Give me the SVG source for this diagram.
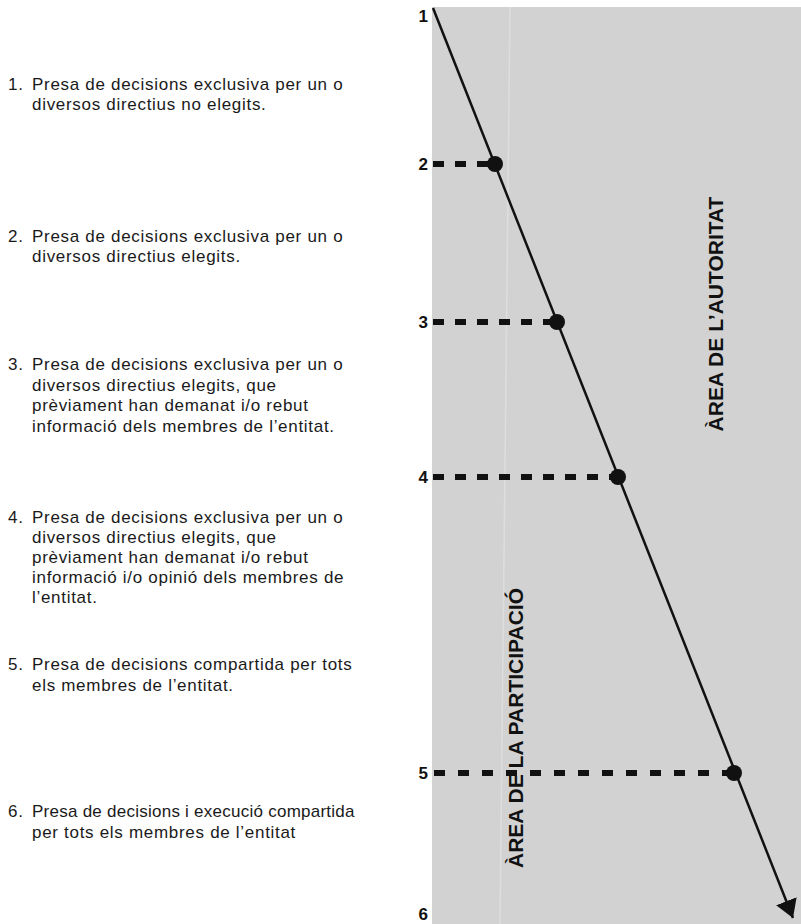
<svg xmlns="http://www.w3.org/2000/svg" width="801" height="924" viewBox="0 0 801 924">
<defs>
<style>
.item{font-family:"Liberation Sans",Arial,sans-serif;font-size:17px;fill:#1a1a1a;letter-spacing:0.7px}
.tight{letter-spacing:0.25px}
.num{font-family:"Liberation Sans",Arial,sans-serif;font-size:17px;font-weight:bold;fill:#111;text-anchor:end}
.area{font-family:"Liberation Sans",Arial,sans-serif;font-size:21px;font-weight:bold;fill:#111;text-anchor:middle}
.dash{stroke:#111;stroke-width:6;stroke-dasharray:11 11;fill:none}
.dot{fill:#111}
</style>
<marker id="arrow" markerUnits="userSpaceOnUse" markerWidth="20" markerHeight="24" refX="18" refY="11" orient="auto" viewBox="0 0 20 24">
<path d="M0,0 L18,11 L0,22 Z" fill="#111"/>
</marker>
</defs>
<rect width="801" height="924" fill="#ffffff"/>
<g id="background">
<rect x="432" y="7" width="369" height="917" fill="#d2d2d2"/>
<line x1="510" y1="7" x2="500" y2="924" stroke="#dedede" stroke-width="1.5"/>
</g>
<g id="items">
<g id="item1">
<text class="item" x="8" y="90">1.</text>
<text class="item" x="32" y="90">Presa de decisions exclusiva per un o</text>
<text class="item" x="32" y="110">diversos directius no elegits.</text>
</g>
<g id="item2">
<text class="item" x="8" y="242">2.</text>
<text class="item" x="32" y="242">Presa de decisions exclusiva per un o</text>
<text class="item" x="32" y="262">diversos directius elegits.</text>
</g>
<g id="item3">
<text class="item" x="8" y="370">3.</text>
<text class="item" x="32" y="370">Presa de decisions exclusiva per un o</text>
<text class="item" x="32" y="391">diversos directius elegits, que</text>
<text class="item" x="32" y="411">prèviament han demanat i/o rebut</text>
<text class="item" x="32" y="432">informació dels membres de l’entitat.</text>
</g>
<g id="item4">
<text class="item" x="8" y="523">4.</text>
<text class="item" x="32" y="523">Presa de decisions exclusiva per un o</text>
<text class="item" x="32" y="543">diversos directius elegits, que</text>
<text class="item" x="32" y="563">prèviament han demanat i/o rebut</text>
<text class="item" x="32" y="583">informació i/o opinió dels membres de</text>
<text class="item" x="32" y="603">l’entitat.</text>
</g>
<g id="item5">
<text class="item" x="8" y="670">5.</text>
<text class="item" x="32" y="670">Presa de decisions compartida per tots</text>
<text class="item" x="32" y="691">els membres de l’entitat.</text>
</g>
<g id="item6">
<text class="item" x="8" y="817">6.</text>
<text class="item tight" x="32" y="817">Presa de decisions i execució compartida</text>
<text class="item" x="32" y="838">per tots els membres de l’entitat</text>
</g>
</g>
<g id="connectors">
<line x1="433" y1="8" x2="793" y2="918" stroke="#111" stroke-width="2.5" marker-end="url(#arrow)"/>
<line class="dash" x1="433" y1="164" x2="494" y2="164"/>
<line class="dash" x1="433" y1="322" x2="557" y2="322"/>
<line class="dash" x1="433" y1="477" x2="618" y2="477"/>
<line class="dash" x1="434" y1="773" x2="734" y2="773" style="stroke-dasharray:11 13"/>
</g>
<g id="level1"><text class="num" x="428" y="22">1</text></g>
<g id="level2"><text class="num" x="428" y="170">2</text><circle class="dot" cx="495" cy="164" r="8"/></g>
<g id="level3"><text class="num" x="428" y="328">3</text><circle class="dot" cx="557" cy="322" r="8"/></g>
<g id="level4"><text class="num" x="428" y="483">4</text><circle class="dot" cx="618" cy="477" r="8"/></g>
<g id="level5"><text class="num" x="428" y="779">5</text><circle class="dot" cx="734" cy="773" r="8"/></g>
<g id="level6"><text class="num" x="428" y="920">6</text></g>
<g id="area-autoritat"><text class="area" transform="translate(723,314) rotate(-90)">ÀREA DE L’AUTORITAT</text></g>
<g id="area-participacio"><text class="area" transform="translate(523,728) rotate(-90)">ÀREA DE LA PARTICIPACIÓ</text></g>
</svg>
